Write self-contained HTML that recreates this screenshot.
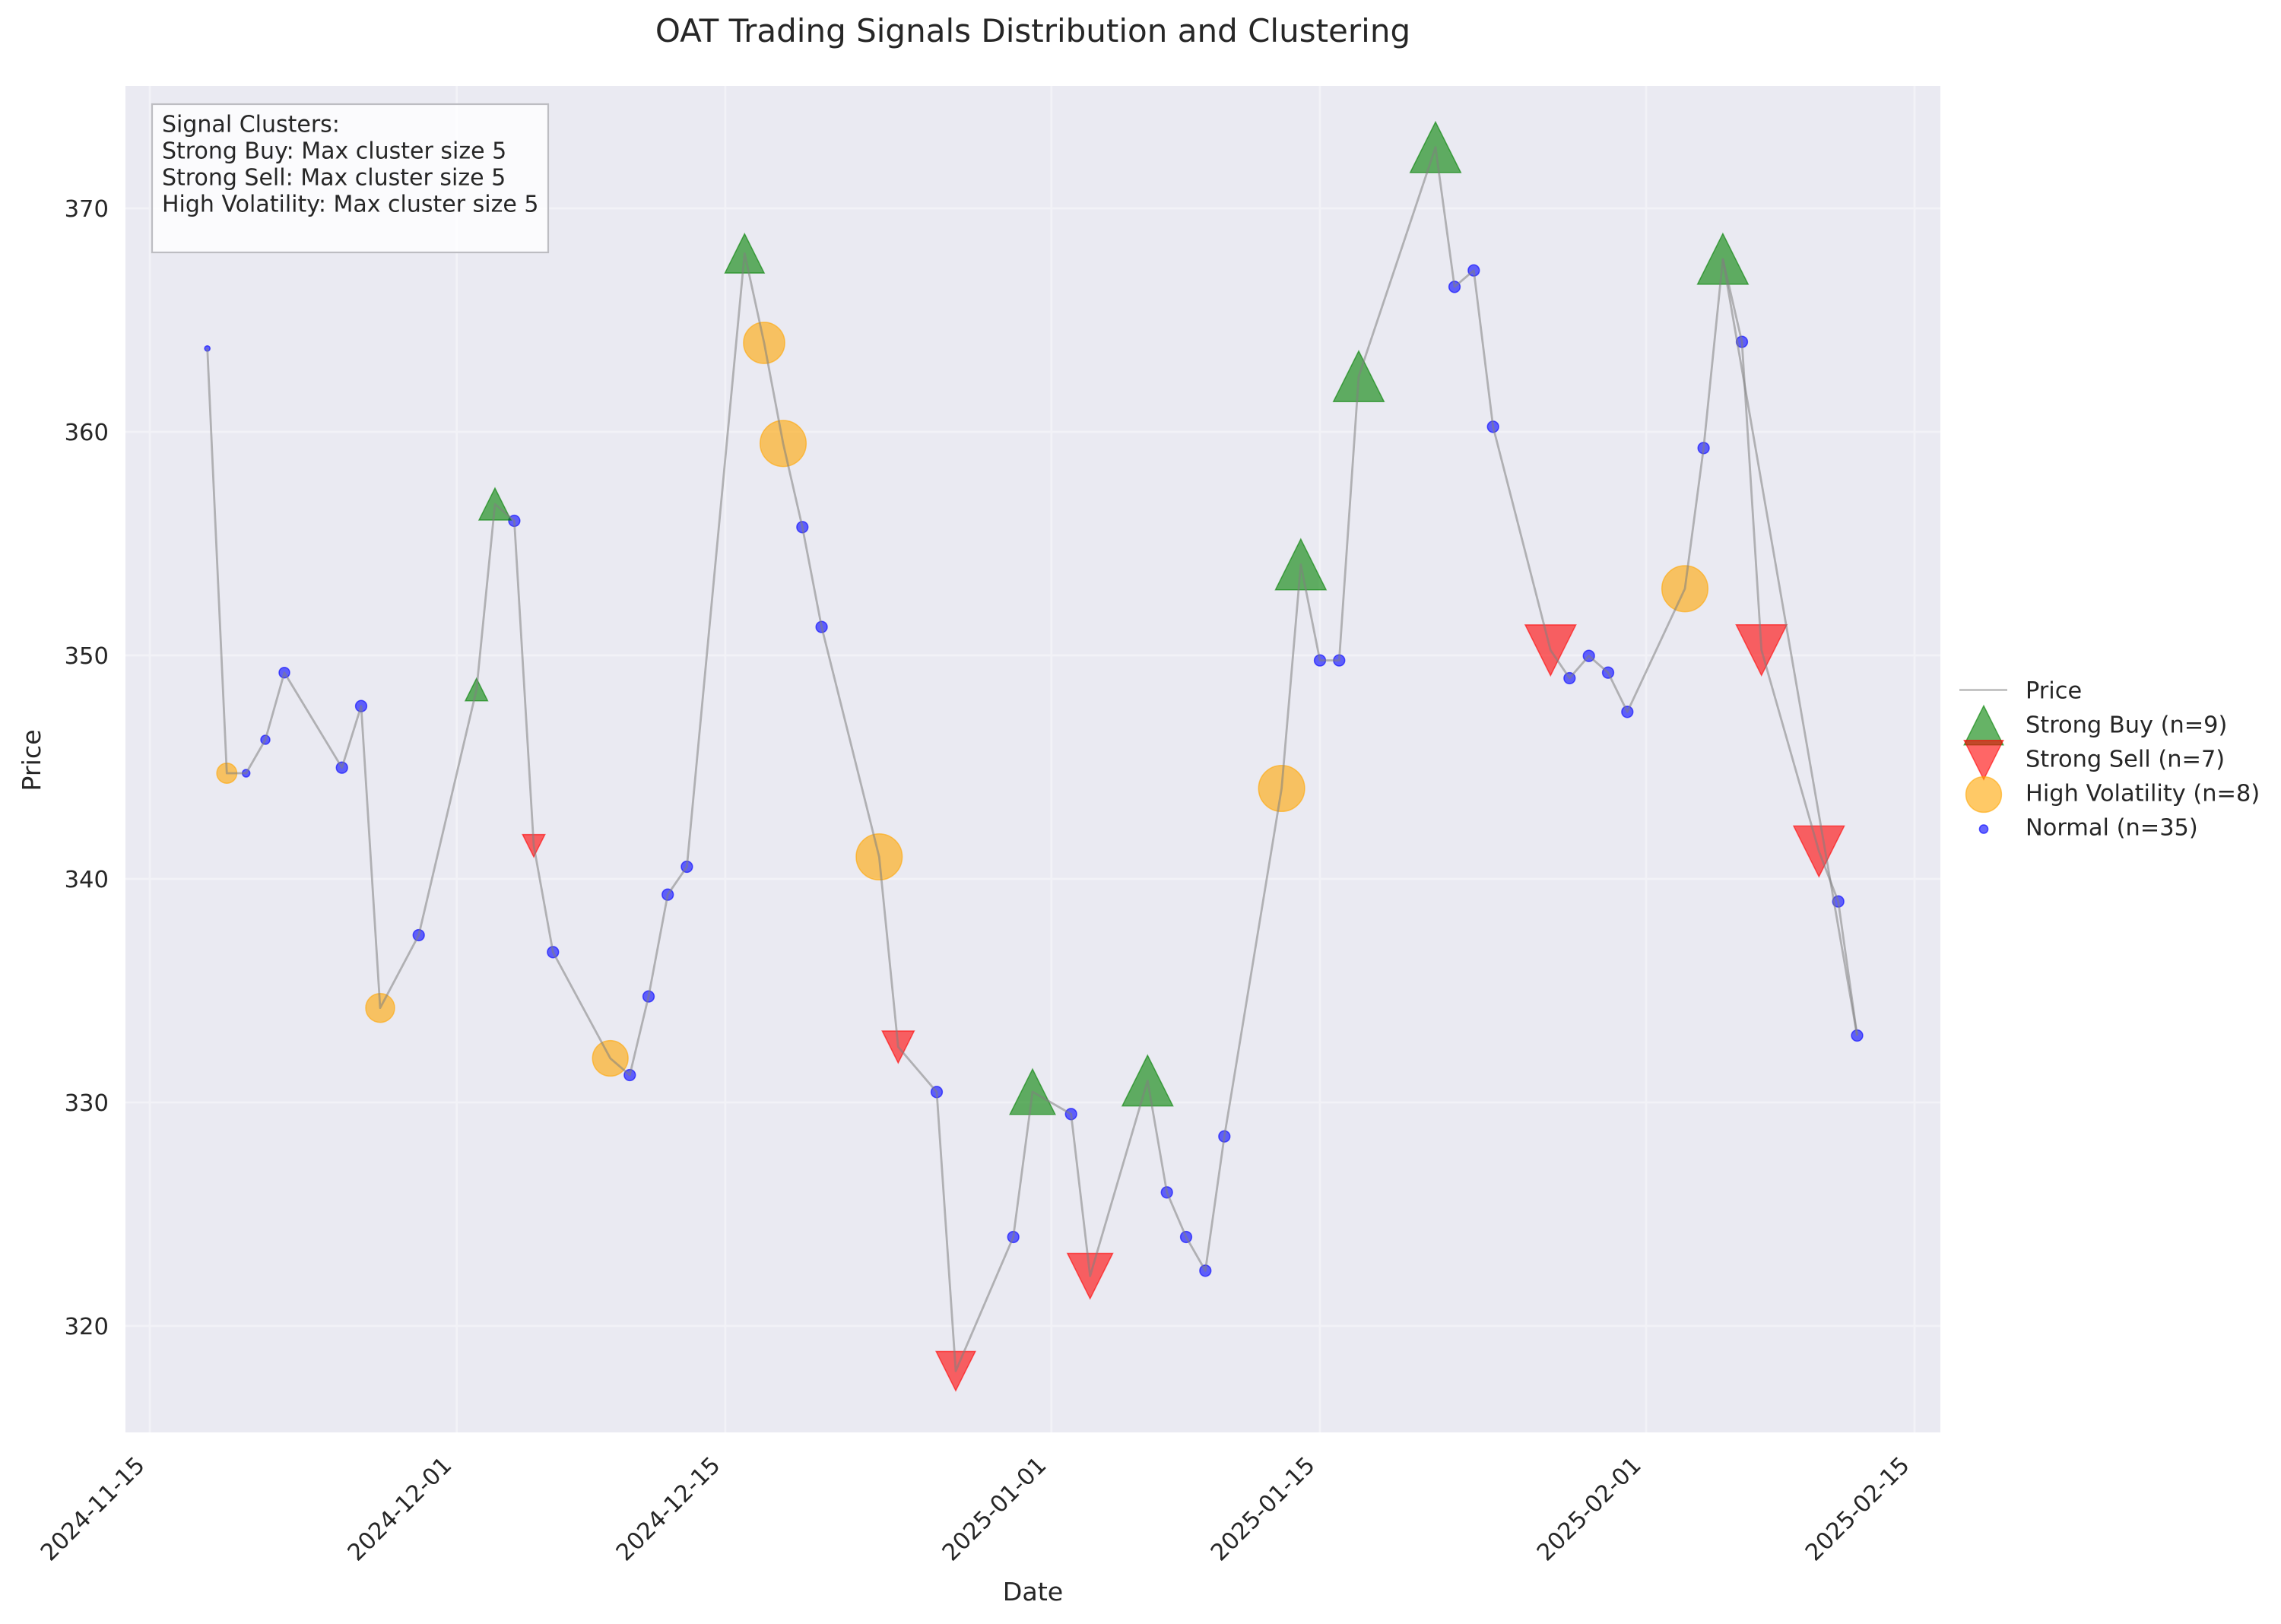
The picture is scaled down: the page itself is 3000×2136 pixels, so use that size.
<!DOCTYPE html>
<html>
<head>
<meta charset="utf-8">
<style>
  html, body { margin: 0; padding: 0; background: #ffffff; }
  svg { display: block; }
  text { font-family: "DejaVu Sans", "Liberation Sans", sans-serif; fill: #262626; }
</style>
</head>
<body>
<svg xmlns="http://www.w3.org/2000/svg" width="3000" height="2136" viewBox="0 0 3000 2136">
  <rect x="0" y="0" width="3000" height="2136" fill="#ffffff"/>

  <!-- Title -->
  <text x="1358.5" y="55" font-size="42" text-anchor="middle">OAT Trading Signals Distribution and Clustering</text>

  <!-- Axes background -->
  <rect x="165" y="113" width="2387" height="1771" fill="#EAEAF2"/>

  <!-- Grid -->
  <g stroke="#F2F2F7" stroke-width="2.8" fill="none">
    <line x1="165" y1="274" x2="2552" y2="274"/>
    <line x1="165" y1="568" x2="2552" y2="568"/>
    <line x1="165" y1="862" x2="2552" y2="862"/>
    <line x1="165" y1="1156" x2="2552" y2="1156"/>
    <line x1="165" y1="1450" x2="2552" y2="1450"/>
    <line x1="165" y1="1744" x2="2552" y2="1744"/>
    <line x1="197" y1="113" x2="197" y2="1884"/>
    <line x1="600.7" y1="113" x2="600.7" y2="1884"/>
    <line x1="953.9" y1="113" x2="953.9" y2="1884"/>
    <line x1="1382.8" y1="113" x2="1382.8" y2="1884"/>
    <line x1="1736" y1="113" x2="1736" y2="1884"/>
    <line x1="2165" y1="113" x2="2165" y2="1884"/>
    <line x1="2518" y1="113" x2="2518" y2="1884"/>
  </g>

  <!-- Y tick labels -->
  <g font-size="30.6" text-anchor="end">
    <text x="143" y="285">370</text>
    <text x="143" y="579">360</text>
    <text x="143" y="873">350</text>
    <text x="143" y="1167">340</text>
    <text x="143" y="1461">330</text>
    <text x="143" y="1755">320</text>
  </g>

  <!-- X tick labels -->
  <g font-size="30.6" text-anchor="end">
    <text transform="translate(192,1929) rotate(-45)">2024-11-15</text>
    <text transform="translate(595.7,1929) rotate(-45)">2024-12-01</text>
    <text transform="translate(948.9,1929) rotate(-45)">2024-12-15</text>
    <text transform="translate(1377.8,1929) rotate(-45)">2025-01-01</text>
    <text transform="translate(1731,1929) rotate(-45)">2025-01-15</text>
    <text transform="translate(2160,1929) rotate(-45)">2025-02-01</text>
    <text transform="translate(2513,1929) rotate(-45)">2025-02-15</text>
  </g>

  <!-- Axis labels -->
  <text x="1358.5" y="2105" font-size="33.3" text-anchor="middle">Date</text>
  <text transform="translate(53,1000) rotate(-90)" font-size="33.3" text-anchor="middle">Price</text>

  <!-- Normal (blue) -->
  <g fill="#0000FF" fill-opacity="0.6" stroke="#0000FF" stroke-opacity="0.6" stroke-width="1.5">
    <circle cx="272.7" cy="458.3" r="3.6"/>
    <circle cx="323.7" cy="1017" r="5"/>
    <circle cx="349" cy="973" r="6"/>
    <circle cx="374" cy="884.7" r="7"/>
    <circle cx="449.7" cy="1009.7" r="7.4"/>
    <circle cx="475" cy="928.7" r="7.4"/>
    <circle cx="550.7" cy="1230" r="7.4"/>
    <circle cx="676.4" cy="685" r="7.4"/>
    <circle cx="727.3" cy="1252.3" r="7.4"/>
    <circle cx="828.3" cy="1414" r="7.4"/>
    <circle cx="853" cy="1310.6" r="7.4"/>
    <circle cx="878.2" cy="1176.7" r="7.4"/>
    <circle cx="903.4" cy="1140" r="7.4"/>
    <circle cx="1055.3" cy="693.3" r="7.4"/>
    <circle cx="1080.6" cy="824.6" r="7.4"/>
    <circle cx="1232" cy="1436.3" r="7.4"/>
    <circle cx="1332.7" cy="1627" r="7.4"/>
    <circle cx="1408.7" cy="1465.3" r="7.4"/>
    <circle cx="1534.7" cy="1568.3" r="7.4"/>
    <circle cx="1560" cy="1627" r="7.4"/>
    <circle cx="1585.3" cy="1671.3" r="7.4"/>
    <circle cx="1610.3" cy="1494.7" r="7.4"/>
    <circle cx="1736" cy="868.6" r="7.4"/>
    <circle cx="1761.3" cy="868.6" r="7.4"/>
    <circle cx="1913" cy="377.3" r="7.4"/>
    <circle cx="1938.3" cy="355.7" r="7.4"/>
    <circle cx="1963.7" cy="561.3" r="7.4"/>
    <circle cx="2064.3" cy="892" r="7.4"/>
    <circle cx="2089.7" cy="862.7" r="7.4"/>
    <circle cx="2115" cy="884.7" r="7.4"/>
    <circle cx="2140.3" cy="936.3" r="7.4"/>
    <circle cx="2240.6" cy="589.3" r="7.4"/>
    <circle cx="2291" cy="449.6" r="7.4"/>
    <circle cx="2417.7" cy="1185.7" r="7.4"/>
    <circle cx="2442.5" cy="1362" r="7.4"/>
  </g>

  <!-- High Volatility (orange) -->
  <g fill="#FFA500" fill-opacity="0.6" stroke="#FFA500" stroke-opacity="0.6" stroke-width="1.5">
    <circle cx="298.3" cy="1017" r="13.2"/>
    <circle cx="500" cy="1325.7" r="19"/>
    <circle cx="802.7" cy="1392" r="23.4"/>
    <circle cx="1005" cy="451" r="27.1"/>
    <circle cx="1030" cy="583.3" r="30.3"/>
    <circle cx="1156.3" cy="1127" r="30.3"/>
    <circle cx="1685.6" cy="1037" r="30.3"/>
    <circle cx="2216" cy="774.3" r="30.3"/>
  </g>

  <!-- Strong Buy (green) -->
  <g fill="#008000" fill-opacity="0.6" stroke="#008000" stroke-opacity="0.6" stroke-width="1.5" stroke-linejoin="miter">
    <polygon points="626.7,892.3 612,921.7 641.4,921.7"/>
    <polygon points="651,642 630,684 672,684"/>
    <polygon points="979.3,307.5 953.5,359.1 1005.1,359.1"/>
    <polygon points="1358,1406.2 1328.2,1465.8 1387.8,1465.8"/>
    <polygon points="1509.3,1388 1476,1454.6 1542.6,1454.6"/>
    <polygon points="1710.8,709.1 1677.5,775.7 1744.1,775.7"/>
    <polygon points="1787,461.7 1753.7,528.3 1820.3,528.3"/>
    <polygon points="1888,160.4 1854.7,227 1921.3,227"/>
    <polygon points="2265.9,307.3 2232.6,373.9 2299.2,373.9"/>
  </g>

  <!-- Strong Sell (red) -->
  <g fill="#FF0000" fill-opacity="0.6" stroke="#FF0000" stroke-opacity="0.6" stroke-width="1.5" stroke-linejoin="miter">
    <polygon points="702,1127 687.3,1097.6 716.7,1097.6"/>
    <polygon points="1181.3,1398 1160.3,1356 1202.3,1356"/>
    <polygon points="1257,1829.1 1231.2,1777.5 1282.8,1777.5"/>
    <polygon points="1433.7,1708.1 1403.9,1648.5 1463.5,1648.5"/>
    <polygon points="2039.3,888.5 2006,821.9 2072.6,821.9"/>
    <polygon points="2316.7,888.3 2283.4,821.7 2350,821.7"/>
    <polygon points="2392.3,1153 2359,1086.4 2425.6,1086.4"/>
  </g>

  <!-- Price line -->
  <g fill="none" stroke="#808080" stroke-opacity="0.55" stroke-width="2.8" stroke-linejoin="round" stroke-linecap="butt">
    <polyline points="272.7,458.3 298.3,1017 323.7,1017 349,973 374,884.7 449.7,1009.7 475,928.7 500,1325.7 550.7,1230 626.7,907 651,663 676.4,685 702,1112.3 727.3,1252.3 802.7,1392 828.3,1414 853,1310.6 878.2,1176.7 903.4,1140 979.3,333.3 1005,451 1030,583.3 1055.3,693.3 1080.6,824.6 1156.3,1127 1181.3,1377 1232,1436.3 1257,1803.3 1332.7,1627 1358,1436 1408.7,1465.3 1433.7,1678.3 1509.3,1421.3 1534.7,1568.3 1560,1627 1585.3,1671.3 1610.3,1494.7 1685.6,1037 1710.8,742.4 1736,868.6 1761.3,868.6 1787,495 1888,193.7 1913,377.3 1938.3,355.7 1963.7,561.3 2039.3,855.2 2064.3,892 2089.7,862.7 2115,884.7 2140.3,936.3 2216,774.3 2240.6,589.3 2265.9,340.6 2291,449.6 2316.7,855 2392.3,1119.7 2417.7,1185.7 2442.5,1362"/>
    <polyline points="2265.9,340.6 2442.5,1362"/>
  </g>

  <!-- Annotation box -->
  <rect x="200" y="137" width="521" height="195" fill="#FFFFFF" fill-opacity="0.8" stroke="#BDBDC2" stroke-width="2.2"/>
  <g font-size="30">
    <text x="213" y="173.3">Signal Clusters:</text>
    <text x="213" y="208.3">Strong Buy: Max cluster size 5</text>
    <text x="213" y="243.3">Strong Sell: Max cluster size 5</text>
    <text x="213" y="278.3">High Volatility: Max cluster size 5</text>
  </g>

  <!-- Legend -->
  <line x1="2577" y1="907.5" x2="2640" y2="907.5" stroke="#808080" stroke-opacity="0.5" stroke-width="2.8"/>
  <polygon points="2609,928.3 2583.3,979.7 2634.7,979.7" fill="#008000" fill-opacity="0.6" stroke="#008000" stroke-opacity="0.6" stroke-width="1.5"/>
  <polygon points="2609,1025.2 2583.3,973.8 2634.7,973.8" fill="#FF0000" fill-opacity="0.6" stroke="#FF0000" stroke-opacity="0.6" stroke-width="1.5"/>
  <circle cx="2609" cy="1045" r="23.4" fill="#FFA500" fill-opacity="0.6" stroke="#FFA500" stroke-opacity="0.6" stroke-width="1.5"/>
  <circle cx="2609" cy="1090.5" r="5.6" fill="#0000FF" fill-opacity="0.6" stroke="#0000FF" stroke-opacity="0.6" stroke-width="1.5"/>
  <g font-size="30.4">
    <text x="2664" y="918.5">Price</text>
    <text x="2664" y="963.5">Strong Buy (n=9)</text>
    <text x="2664" y="1008.5">Strong Sell (n=7)</text>
    <text x="2664" y="1053.5">High Volatility (n=8)</text>
    <text x="2664" y="1098.5">Normal (n=35)</text>
  </g>
</svg>
</body>
</html>
